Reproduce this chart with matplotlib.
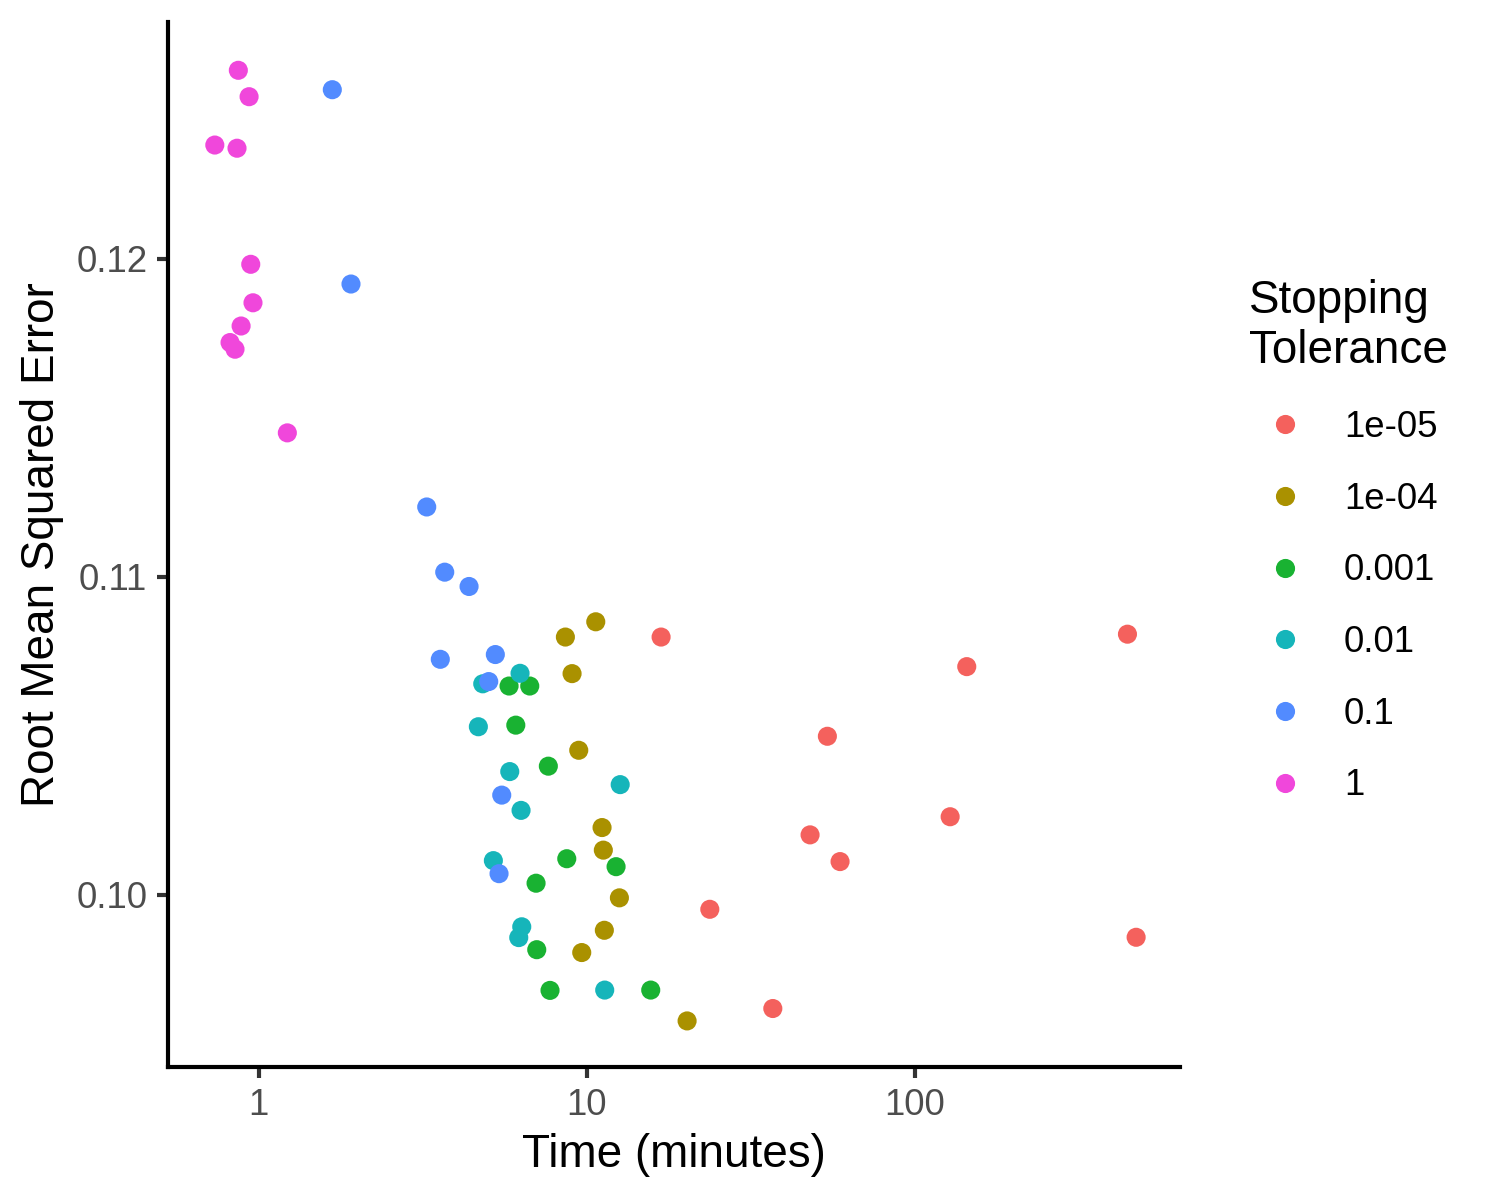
import matplotlib
matplotlib.use("Agg")
import matplotlib.pyplot as plt
from matplotlib.lines import Line2D

plt.rcParams['font.family'] = ['Liberation Sans', 'DejaVu Sans']

tolerances = ["1e-05", "1e-04", "0.001", "0.01", "0.1", "1"]
colors = ["#F4615D", "#AA9100", "#19B232", "#16B5BA", "#528BFF", "#F047DB"]

time_1e05 = [16.84, 443.6, 143.7, 54.06, 127.9, 47.88, 59.09, 23.70, 471.4, 36.87]
rmse_1e05 = [0.10811, 0.10820, 0.10718, 0.10499, 0.10246, 0.10189, 0.10105, 0.09955, 0.09867, 0.09643]

time_1e04 = [8.606, 10.65, 9.019, 9.452, 11.13, 11.23, 12.57, 11.31, 9.652, 20.21]
rmse_1e04 = [0.10811, 0.10859, 0.10696, 0.10455, 0.10212, 0.10141, 0.09991, 0.09889, 0.09819, 0.09604]

time_1e03 = [5.797, 6.703, 6.078, 7.636, 8.690, 12.28, 7.006, 7.040, 7.727, 15.66]
rmse_1e03 = [0.10657, 0.10657, 0.10534, 0.10405, 0.10114, 0.10089, 0.10037, 0.09828, 0.09700, 0.09701]

time_1e02 = [4.820, 6.262, 4.674, 5.826, 6.306, 12.64, 5.193, 6.337, 6.205, 11.34]
rmse_1e02 = [0.10664, 0.10697, 0.10529, 0.10388, 0.10266, 0.10347, 0.10108, 0.09900, 0.09866, 0.09701]

time_1e01 = [1.678, 1.913, 3.254, 3.692, 4.379, 3.579, 5.265, 5.027, 5.507, 5.404]
rmse_1e01 = [0.12532, 0.11921, 0.11220, 0.11015, 0.10970, 0.10741, 0.10756, 0.10671, 0.10314, 0.10067]

time_1e00 = [0.868, 0.936, 0.736, 0.860, 0.947, 0.962, 0.885, 0.819, 0.848, 1.224]
rmse_1e00 = [0.12593, 0.12510, 0.12358, 0.12348, 0.11983, 0.11862, 0.11789, 0.11737, 0.11716, 0.11453]

times = [time_1e05, time_1e04, time_1e03, time_1e02, time_1e01, time_1e00]
rmses = [rmse_1e05, rmse_1e04, rmse_1e03, rmse_1e02, rmse_1e01, rmse_1e00]

x_ticks = [1, 10, 100]
x_tick_labels = ["1", "10", "100"]
y_ticks = [0.10, 0.11, 0.12]
y_tick_labels = ["0.10", "0.11", "0.12"]

fig = plt.figure(figsize=(5, 4), dpi=300)
ax = fig.add_axes([0.112, 0.1108, 0.6747, 0.8709])

for t, r, c in zip(times, rmses, colors):
    ax.scatter(t, r, s=21, color=c, edgecolors='none', zorder=3)

ax.set_xscale('log')
ax.set_xlim(0.530, 641.5)
ax.set_ylim(0.09459, 0.12745)
ax.set_xticks(x_ticks)
ax.set_xticklabels(x_tick_labels)
ax.set_yticks(y_ticks)
ax.set_yticklabels(y_tick_labels)
ax.minorticks_off()

for side in ['top', 'right']:
    ax.spines[side].set_visible(False)
for side in ['left', 'bottom']:
    ax.spines[side].set_linewidth(1.0)
    ax.spines[side].set_color('black')

ax.tick_params(axis='both', which='major', length=2.75, width=1.0, color='#333333',
               labelcolor='#4D4D4D', labelsize=8.8, pad=2.2)

ax.set_xlabel("Time (minutes)", fontsize=11, color='black', labelpad=2.5)
ax.set_ylabel("Root Mean Squared Error", fontsize=11, color='black', labelpad=3)

handles = [Line2D([0], [0], marker='o', linestyle='none', markersize=4.6,
                  markerfacecolor=c, markeredgecolor='none') for c in colors]
leg = fig.legend(handles, tolerances, title="Stopping\nTolerance",
                 loc='upper left', bbox_to_anchor=(0.8227, 0.78),
                 frameon=False, fontsize=8.8, title_fontsize=11,
                 alignment='left', handletextpad=0.6, labelspacing=1.0,
                 handlelength=2.0, borderaxespad=0)

fig.savefig("out.png", dpi=300, facecolor='white')
